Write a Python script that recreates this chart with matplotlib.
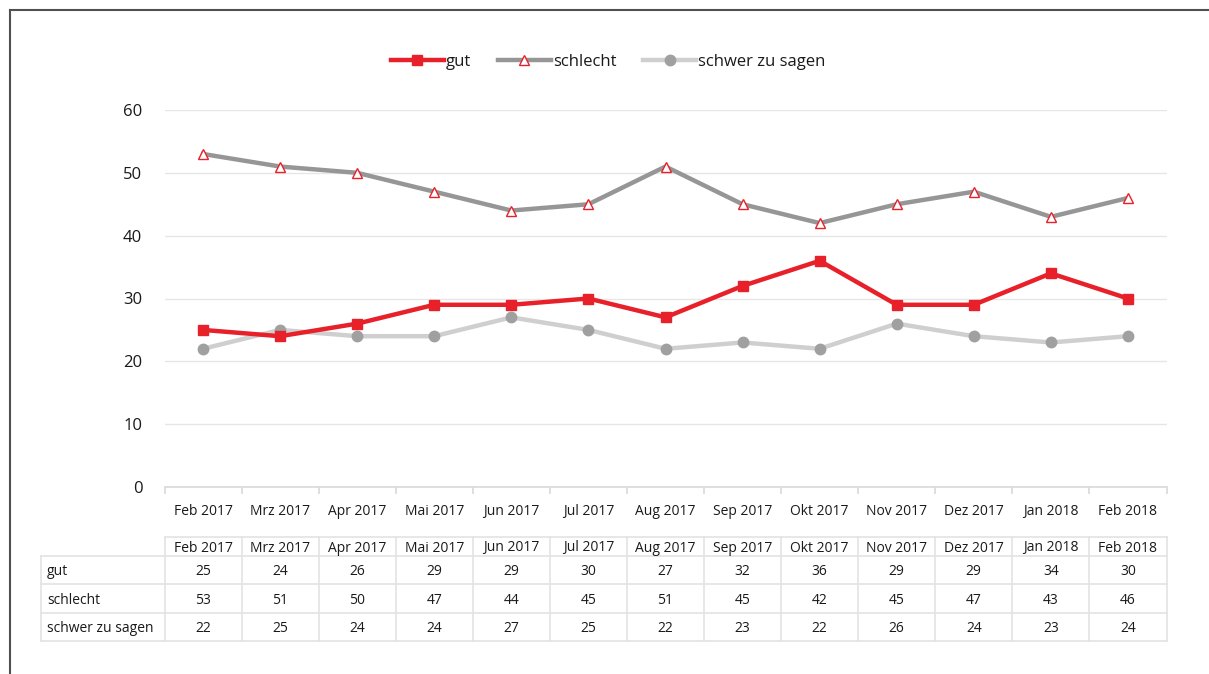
import matplotlib
matplotlib.use("Agg")
import matplotlib.pyplot as plt
from matplotlib.lines import Line2D
import numpy as np

months = ["Feb 2017", "Mrz 2017", "Apr 2017", "Mai 2017", "Jun 2017", "Jul 2017",
          "Aug 2017", "Sep 2017", "Okt 2017", "Nov 2017", "Dez 2017", "Jan 2018", "Feb 2018"]
gut = [25, 24, 26, 29, 29, 30, 27, 32, 36, 29, 29, 34, 30]
schlecht = [53, 51, 50, 47, 44, 45, 51, 45, 42, 45, 47, 43, 46]
schwer = [22, 25, 24, 24, 27, 25, 22, 23, 22, 26, 24, 23, 24]
series_names = ["gut", "schlecht", "schwer zu sagen"]
yticks = [0, 10, 20, 30, 40, 50, 60]

plt.rcParams['font.family'] = ['Open Sans', 'DejaVu Sans']

W, H = 1209, 674
fig = plt.figure(figsize=(W / 100, H / 100), dpi=100)

def px(x0, y0, x1, y1):
    return [x0 / W, 1 - y1 / H, (x1 - x0) / W, (y1 - y0) / H]

ax = fig.add_axes(px(164.5, 110, 1166.5, 487))
x = np.arange(len(months))

RED = "#E8202A"
DGRAY = "#969696"
LGRAY = "#CFCFCF"
TXT = "#1A1A1A"

ax.plot(x, schwer, color=LGRAY, lw=3.2, marker="o", ms=7.5, mfc="#A0A0A0", mec="#A0A0A0",
        label=series_names[2], zorder=3)
ax.plot(x, gut, color=RED, lw=3.2, marker="s", ms=7.5, mfc=RED, mec=RED,
        label=series_names[0], zorder=4)
ax.plot(x, schlecht, color=DGRAY, lw=3.2, marker="^", ms=7, mfc="white", mec=RED, mew=1.0,
        label=series_names[1], zorder=3)

ax.set_xlim(-0.5, len(months) - 0.5)
ax.set_ylim(0, 60)
ax.set_yticks(yticks)
ax.set_yticklabels([str(v) for v in yticks], fontsize=12, color=TXT)
ax.grid(axis="y", color="#E6E6E6", lw=1)
ax.set_axisbelow(True)
for s in ["top", "right", "left"]:
    ax.spines[s].set_visible(False)
ax.spines["bottom"].set_color("#D9D9D9")
ax.spines["bottom"].set_linewidth(1.2)
ax.tick_params(axis="y", length=0, pad=16)
ax.set_xticks(x)
ax.set_xticklabels(months, fontsize=10, color=TXT)
ax.set_xticks(np.arange(-0.5, len(months)), minor=True)
ax.tick_params(axis="x", which="major", length=0, pad=12)
ax.tick_params(axis="x", which="minor", length=5, color="#D9D9D9", width=1.2)

handles, labels = ax.get_legend_handles_labels()
order = [1, 2, 0]
leg = fig.legend([handles[i] for i in order], [labels[i] for i in order],
                 loc="center", bbox_to_anchor=(608 / W, 1 - 62 / H), ncol=3, frameon=False,
                 fontsize=12, handlelength=3.2, columnspacing=1.6, handletextpad=0.1)
for t in leg.get_texts():
    t.set_color(TXT)

# data table
tax = fig.add_axes(px(41, 537, 1166.5, 641))
label_w = (164.5 - 41) / ((1166.5 - 164.5) / len(months))
tax.set_xlim(-0.5 - label_w, len(months) - 0.5)
row_tops = [0, 19, 47, 76, 104]  # pixel offsets from top of table area
tot = 104
tax.set_ylim(tot, 0)
tax.axis("off")
gc = "#E3E3E3"
rows = [gut, schlecht, schwer]
for i, yy in enumerate(row_tops):
    x0 = -0.5 if i == 0 else -0.5 - label_w
    tax.plot([x0, len(months) - 0.5], [yy, yy], color=gc, lw=1.2, clip_on=False)
for k in range(len(months) + 1):
    tax.plot([k - 0.5, k - 0.5], [0, tot], color=gc, lw=1.2, clip_on=False)
tax.plot([-0.5 - label_w] * 2, [row_tops[1], tot], color=gc, lw=1.2, clip_on=False)
BOFF = 5
for k, m in enumerate(months):
    tax.text(k, (row_tops[0] + row_tops[1]) / 2 + BOFF, m, ha="center", va="baseline",
             fontsize=10, color=TXT)
for r, (name, vals) in enumerate(zip(series_names, rows)):
    yc = (row_tops[r + 1] + row_tops[r + 2]) / 2 + BOFF
    tax.text(-0.5 - label_w + 0.08, yc, name, ha="left", va="baseline", fontsize=10, color=TXT)
    for k, v in enumerate(vals):
        tax.text(k, yc, str(v), ha="center", va="baseline", fontsize=10, color=TXT)

# outer frame
fig.add_artist(Line2D([10 / W, 10 / W], [0, 1 - 10 / H], transform=fig.transFigure, color="#505050", lw=1.5))
fig.add_artist(Line2D([10 / W, 1], [1 - 10 / H, 1 - 10 / H], transform=fig.transFigure, color="#505050", lw=1.5))

fig.savefig("out.png", dpi=100, facecolor="white")
